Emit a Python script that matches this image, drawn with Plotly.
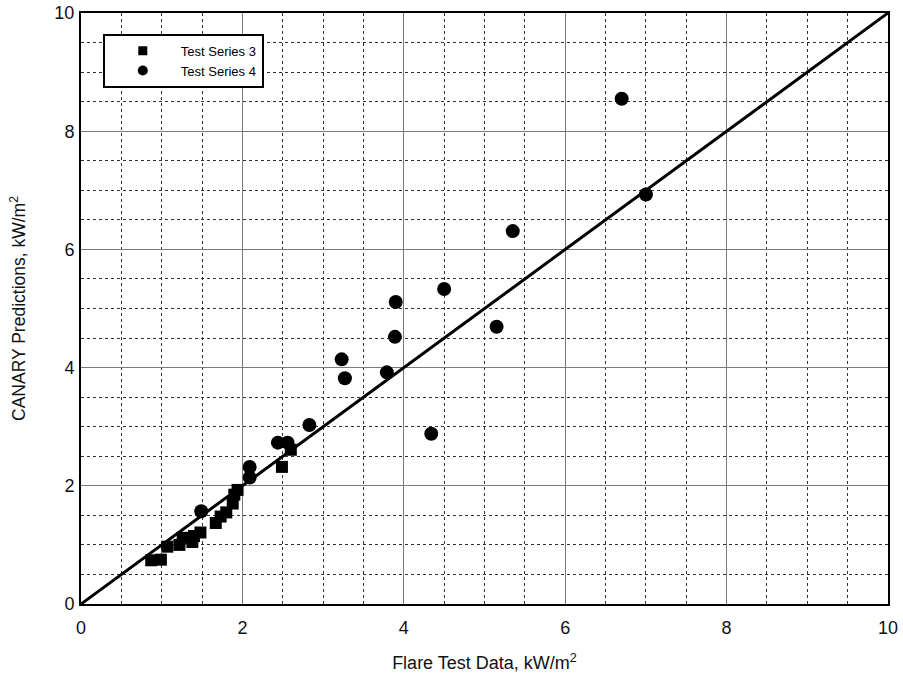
import plotly.graph_objects as go

# Test Series 3 (squares)
s3_x = [0.87, 0.99, 1.07, 1.22, 1.26, 1.38, 1.40, 1.48, 1.67, 1.73, 1.80, 1.88, 1.90, 1.94, 2.49, 2.60]
s3_y = [0.74, 0.75, 0.97, 1.00, 1.12, 1.05, 1.15, 1.21, 1.37, 1.48, 1.55, 1.70, 1.85, 1.93, 2.32, 2.61]

# Test Series 4 (circles)
s4_x = [1.49, 2.09, 2.09, 2.44, 2.56, 2.83, 3.23, 3.27, 3.79, 3.90, 3.89, 4.34, 4.50, 5.15, 5.35, 6.70, 7.00]
s4_y = [1.57, 2.32, 2.14, 2.73, 2.73, 3.03, 4.14, 3.82, 3.92, 5.11, 4.52, 2.88, 5.33, 4.69, 6.31, 8.55, 6.93]

# 1:1 reference line
line_x = [0, 10]
line_y = [0, 10]

series_names = ["Test Series 3", "Test Series 4"]

fig = go.Figure()
fig.add_trace(go.Scatter(x=line_x, y=line_y, mode="lines",
                         line=dict(color="black", width=3), showlegend=False))
fig.add_trace(go.Scatter(x=s3_x, y=s3_y, mode="markers", name=series_names[0], showlegend=False,
                         marker=dict(symbol="square", size=12, color="black")))
fig.add_trace(go.Scatter(x=s4_x, y=s4_y, mode="markers", name=series_names[1], showlegend=False,
                         marker=dict(symbol="circle", size=14, color="black")))
# legend entries (smaller symbols, as in the reference legend)
fig.add_trace(go.Scatter(x=[None], y=[None], mode="markers", name=series_names[0],
                         marker=dict(symbol="square", size=9, color="black")))
fig.add_trace(go.Scatter(x=[None], y=[None], mode="markers", name=series_names[1],
                         marker=dict(symbol="circle", size=10, color="black")))

font = "Liberation Sans, Arial, sans-serif"
axis_common = dict(
    range=[0, 10], dtick=2, showgrid=True, gridcolor="#7a7a7a", gridwidth=1,
    zeroline=False, showline=True, linecolor="black", linewidth=2, mirror=True,
    ticks="", tickfont=dict(size=18, color="#111", family=font), automargin=False,
    minor=dict(dtick=0.5, showgrid=True, gridcolor="#333", griddash="dot", gridwidth=1),
)

fig.update_layout(
    width=903, height=687,
    margin=dict(l=81, r=15, t=13, b=83),
    paper_bgcolor="white", plot_bgcolor="white",
    font=dict(family=font, color="#111"),
    xaxis=dict(**axis_common, ticklabelstandoff=6,
               title=dict(text="Flare Test Data, kW/m<sup>2</sup>", font=dict(size=18, family=font), standoff=20)),
    yaxis=dict(**axis_common, ticklabelstandoff=1,
               title=dict(text="CANARY Predictions, kW/m<sup>2</sup>", font=dict(size=17.5, family=font), standoff=24)),
    legend=dict(x=0.027, y=0.965, xanchor="left", yanchor="top",
                bgcolor="white", bordercolor="black", borderwidth=2,
                font=dict(size=13, family=font, color="black"),
                itemwidth=66, tracegroupgap=0),
    showlegend=True,
)

fig.write_html("out.html")
